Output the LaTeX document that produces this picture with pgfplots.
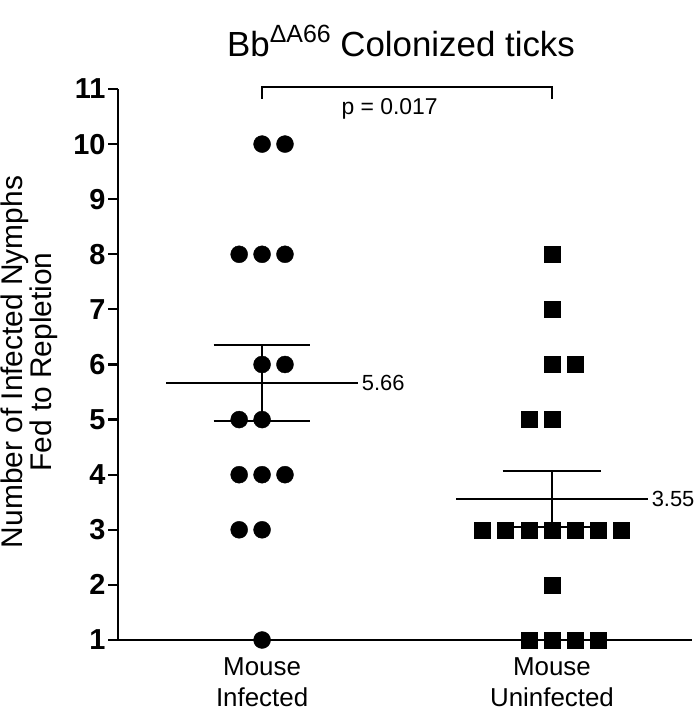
\documentclass[border=0pt]{standalone}
\usepackage{pgfplots}
\pgfplotsset{compat=1.18}
\usepackage{fontspec}
\setmainfont{Liberation Sans}
\begin{document}
\begin{tikzpicture}[x=1bp,y=1bp]
\useasboundingbox (0,0) rectangle (700,724);
\begin{axis}[
  at={(118bp,84bp)}, anchor=south west,
  scale only axis, width=574bp, height=551bp,
  xmin=-0.497, xmax=1.483, ymin=1, ymax=11,
  clip=false,
  axis x line*=bottom, axis y line*=left,
  axis line style={line width=2.4bp, -},
  ytick={1,2,...,11},
  xtick={0,1},
  xticklabels={Mouse\\Infected, Mouse\\Uninfected},
  tick align=outside,
  major tick length=10bp,
  tick style={line width=2.2bp, black},
  xtick style={/pgfplots/major tick length=5bp},
  /pgf/number format/assume math mode=true,
  yticklabel style={font=\bfseries\fontsize{29}{29}\selectfont, xshift=1bp},
  xticklabel style={align=center, font=\fontsize{26}{31}\selectfont, yshift=-4bp},
]
% means and SEM
\addplot[black, line width=2.4bp, no marks] coordinates {(-0.33,5.667) (0.33,5.667)};
\addplot[black, line width=2.4bp, no marks] coordinates {(-0.167,6.355) (0.167,6.355)};
\addplot[black, line width=2.4bp, no marks] coordinates {(-0.167,4.979) (0.167,4.979)};
\addplot[black, line width=2.4bp, no marks] coordinates {(0,4.979) (0,6.355)};
\addplot[black, line width=2.4bp, no marks] coordinates {(0.67,3.556) (1.33,3.556)};
\addplot[black, line width=2.4bp, no marks] coordinates {(0.83,4.062) (1.17,4.062)};
\addplot[black, line width=2.4bp, no marks] coordinates {(0.83,3.05) (1.17,3.05)};
\addplot[black, line width=2.4bp, no marks] coordinates {(1,3.05) (1,4.062)};
% significance bracket
\addplot[black, line width=2.4bp, no marks] coordinates {(0,10.82) (0,11.04) (1,11.04) (1,10.82)};
% Mouse Infected
\addplot[only marks, mark=*, mark size=8.5bp, black] coordinates {
(0,10) (0.079,10)
(-0.079,8) (0,8) (0.079,8)
(0,6) (0.079,6)
(-0.079,5) (0,5)
(-0.079,4) (0,4) (0.079,4)
(-0.079,3) (0,3)
(0,1)
};
% Mouse Uninfected
\addplot[only marks, mark=square*, mark size=8bp, black] coordinates {
(1,8)
(1,7)
(1,6) (1.08,6)
(0.92,5) (1,5)
(0.76,3) (0.84,3) (0.92,3) (1,3) (1.08,3) (1.16,3) (1.24,3)
(1,2)
(0.92,1) (1,1) (1.08,1) (1.16,1)
};
\node[anchor=west, font=\fontsize{22}{22}\selectfont, inner sep=1bp] at (axis cs:0.34,5.667) {5.66};
\node[anchor=west, font=\fontsize{22}{22}\selectfont, inner sep=1bp] at (axis cs:1.34,3.556) {3.55};
\node[font=\fontsize{23}{23}\selectfont] at (axis cs:0.44,10.63) {p = 0.017};
\end{axis}
\node[rotate=90, align=center, font=\fontsize{30}{29}\selectfont] at (29,362) {Number of Infected Nymphs\\Fed to Repletion};
\node[font=\fontsize{35}{38}\selectfont] at (401,683) {Bb\raisebox{0.42em}{\fontsize{25}{25}\selectfont ΔA66} Colonized ticks};
\end{tikzpicture}
\end{document}
